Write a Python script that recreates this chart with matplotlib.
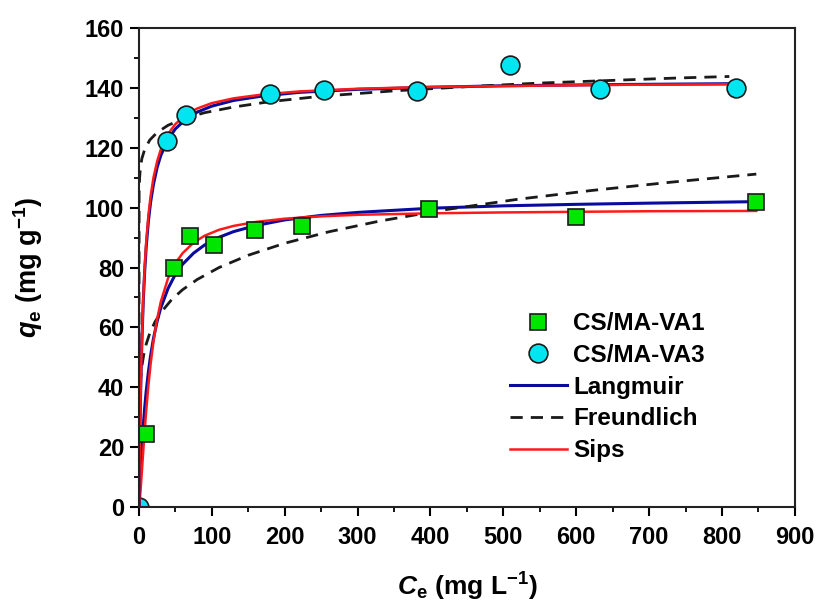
import matplotlib
matplotlib.use("Agg")
import matplotlib.pyplot as plt
from matplotlib.ticker import MultipleLocator

plt.rcParams['font.family'] = ['Liberation Sans', 'DejaVu Sans']
plt.rcParams['font.weight'] = 'bold'
plt.rcParams['mathtext.fontset'] = 'custom'
plt.rcParams['mathtext.rm'] = 'Liberation Sans:bold'
plt.rcParams['mathtext.bf'] = 'Liberation Sans:bold'
plt.rcParams['mathtext.it'] = 'Liberation Sans:bold:italic'

# Experimental data
ce_va1 = [10, 48.5, 70, 103, 159, 224, 398, 600, 846]
qe_va1 = [24.4, 79.7, 90.6, 87.6, 92.5, 93.8, 99.7, 96.8, 102.0]
ce_va3 = [0, 38, 65, 180, 254, 382, 509, 632, 819]
qe_va3 = [0.0, 122.3, 130.8, 137.8, 139.4, 138.8, 147.6, 139.7, 140.0]

# Model curves
c_va1 = [0, 1, 2, 3, 4, 6, 8, 10, 13, 16, 20, 25, 30, 40, 50, 60, 75, 90, 110, 130,
         160, 200, 250, 300, 400, 500, 600, 700, 847]
lang_va1 = [0.0, 5.8, 11.0, 15.6, 19.9, 27.2, 33.3, 38.6, 45.1, 50.5, 56.3, 62.0, 66.5,
            73.0, 77.7, 81.1, 84.8, 87.5, 90.1, 92.0, 94.0, 95.9, 97.4, 98.4, 99.8,
            100.6, 101.1, 101.5, 102.0]
sips_va1 = [0.0, 1.9, 4.7, 8.1, 11.6, 18.8, 25.7, 32.1, 40.5, 47.6, 55.4, 62.8, 68.5,
            76.4, 81.4, 84.8, 88.3, 90.6, 92.6, 93.9, 95.2, 96.3, 97.1, 97.6, 98.1,
            98.4, 98.6, 98.8, 98.9]
cf_va1 = [0, 0.5, 1, 2, 4, 7, 10, 15, 22, 30, 45, 60, 80, 110, 150, 200, 260, 330, 420,
          520, 620, 730, 847]
freu_va1 = [0.0, 33.6, 37.5, 42.0, 46.9, 51.4, 54.4, 58.1, 61.8, 64.9, 69.3, 72.6, 76.0,
            80.0, 84.1, 88.1, 91.9, 95.5, 99.3, 102.8, 105.7, 108.5, 111.2]

c_va3 = [0, 0.5, 1, 2, 3, 4, 6, 8, 10, 13, 16, 20, 25, 30, 40, 50, 65, 80, 100, 130,
         170, 220, 300, 400, 500, 650, 819]
lang_va3 = [0.0, 10.3, 19.2, 33.8, 45.3, 54.7, 68.8, 79.0, 86.7, 95.4, 101.7, 107.8,
            113.4, 117.4, 122.8, 126.3, 129.7, 131.9, 133.9, 135.8, 137.3, 138.5, 139.5,
            140.2, 140.7, 141.1, 141.4]
sips_va3 = [0.0, 9.1, 17.8, 32.7, 44.7, 54.5, 69.5, 80.2, 88.3, 97.3, 103.7, 110.0,
            115.4, 119.4, 124.6, 127.9, 131.1, 133.1, 134.9, 136.5, 137.8, 138.8, 139.7,
            140.3, 140.6, 141.0, 141.2]
cf_va3 = [0, 0.3, 1, 2, 4, 8, 15, 25, 40, 60, 90, 130, 180, 250, 350, 450, 550, 650,
          740, 810]
freu_va3 = [0.0, 104.8, 110.0, 113.1, 116.3, 119.5, 122.6, 125.1, 127.5, 129.6, 131.7,
            133.6, 135.4, 137.2, 139.0, 140.4, 141.6, 142.5, 143.3, 143.8]

legend_labels = ['CS/MA-VA1', 'CS/MA-VA3', 'Langmuir', 'Freundlich', 'Sips']

fig = plt.figure(figsize=(8.17, 6.08), dpi=100)
ax = fig.add_axes([0.170, 0.166, 0.803, 0.788])

blue = '#0a0a9e'
red = '#ff1a1a'
dark = '#1a1a1a'
dash = (0, (4.4, 2.9))
green = '#00e600'
cyan = '#00e5f0'

ax.plot(c_va1, lang_va1, color=blue, lw=2.2, zorder=3)
ax.plot(cf_va1, freu_va1, color=dark, lw=2.0, ls=dash, zorder=3)
ax.plot(c_va1, sips_va1, color=red, lw=1.8, zorder=3)
ax.plot(c_va3, lang_va3, color=blue, lw=2.2, zorder=3)
ax.plot(cf_va3, freu_va3, color=dark, lw=2.0, ls=dash, zorder=3)
ax.plot(c_va3, sips_va3, color=red, lw=1.8, zorder=3)

ax.plot(ce_va1, qe_va1, ls='none', marker='s', ms=11.5, mfc=green, mec=dark,
        mew=1.2, zorder=4)
ax.plot(ce_va3[1:], qe_va3[1:], ls='none', marker='o', ms=13.5, mfc=cyan, mec=dark,
        mew=1.2, zorder=4)
# point at the origin sits under the axes frame and is clipped by it
ax.plot(ce_va3[:1], qe_va3[:1], ls='none', marker='o', ms=13.5, mfc=cyan, mec=dark,
        mew=1.2, zorder=2, clip_on=True)

# legend proxies
h1, = ax.plot([], [], ls='none', marker='s', ms=11.5, mfc=green, mec=dark, mew=1.2)
h2, = ax.plot([], [], ls='none', marker='o', ms=13.5, mfc=cyan, mec=dark, mew=1.2)
h3, = ax.plot([], [], color=blue, lw=2.2)
h4, = ax.plot([], [], color=dark, lw=2.0, ls=dash)
h5, = ax.plot([], [], color=red, lw=1.8)
leg = ax.legend([h1, h2, h3, h4, h5], legend_labels,
                loc='upper left', bbox_to_anchor=(0.5655, 0.407), frameon=False,
                prop={'family': 'Liberation Sans', 'weight': 'bold', 'size': 17.5},
                handlelength=2.35, handletextpad=0.25,
                labelspacing=0.36, borderaxespad=0, borderpad=0)

ax.set_xlim(0, 900)
ax.set_ylim(0, 160)
ax.xaxis.set_major_locator(MultipleLocator(100))
ax.xaxis.set_minor_locator(MultipleLocator(50))
ax.yaxis.set_major_locator(MultipleLocator(20))
ax.yaxis.set_minor_locator(MultipleLocator(10))
ax.tick_params(which='major', direction='out', length=6.5, width=1.5, labelsize=17)
ax.tick_params(axis='x', which='major', pad=7)
ax.tick_params(axis='y', which='major', pad=4)
ax.tick_params(which='minor', direction='out', length=3.6, width=1.3)
for lab in ax.get_xticklabels() + ax.get_yticklabels():
    lab.set_fontweight('bold')
for s in ax.spines.values():
    s.set_linewidth(1.5)
    s.set_color('#222222')
    s.set_zorder(5)

ax.set_xlabel(r'$\mathit{C}_{\mathrm{e}}$ (mg L$^{\mathrm{-1}}$)', fontsize=19,
              fontweight='bold')
ax.set_ylabel(r'$\mathit{q}_{\mathrm{e}}$ (mg g$^{\mathrm{-1}}$)', fontsize=19.5,
              fontweight='bold')
ax.xaxis.set_label_coords(0.5, -0.133)
ax.yaxis.set_label_coords(-0.143, 0.5)

fig.savefig('out.png', dpi=100)
